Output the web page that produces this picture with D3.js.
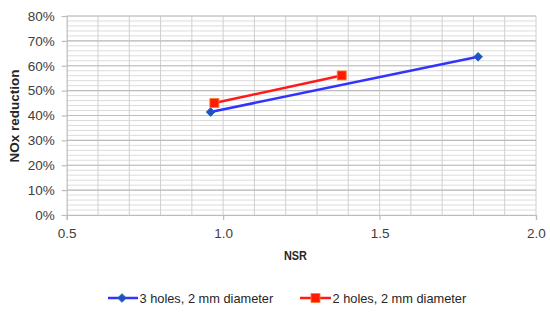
<!DOCTYPE html>
<html><head><meta charset="utf-8">
<script src="https://cdn.jsdelivr.net/npm/d3@7"></script>
<style>body{margin:0;background:#fff}svg{display:block}</style>
</head><body>
<svg id="c" width="550" height="319"></svg>
<script>
const xTicks = [0.5, 1.0, 1.5, 2.0];
const yTicks = [0, 0.1, 0.2, 0.3, 0.4, 0.5, 0.6, 0.7, 0.8];
const series1Name = "3 holes, 2 mm diameter";
const series1X = [0.96, 1.815];
const series1Y = [0.414, 0.636];
const series2Name = "2 holes, 2 mm diameter";
const series2X = [0.972, 1.379];
const series2Y = [0.450, 0.561];
const xTitle = "NSR";
const yTitle = "NOx reduction";

const svg = d3.select("#c");
const L = 66.7, R = 536, T = 16, B = 215;
const x = d3.scaleLinear().domain([0.5, 2.0]).range([L, R]);
const y = d3.scaleLinear().domain([0, 0.8]).range([B, T]);
const font = "'Liberation Sans', Arial, sans-serif";

// minor horizontal gridlines (every 2%)
const minorY = d3.range(0, 0.8001, 0.02);
svg.append("g").selectAll("line").data(minorY).join("line")
  .attr("x1", L).attr("x2", R).attr("y1", d => y(d)).attr("y2", d => y(d))
  .attr("stroke", "#dcdcdc").attr("stroke-width", 1);
// vertical gridlines every 0.1
const vx = d3.range(0.6, 2.0001, 0.1);
svg.append("g").selectAll("line").data(vx).join("line")
  .attr("x1", d => x(d)).attr("x2", d => x(d)).attr("y1", T).attr("y2", B)
  .attr("stroke", "#d0d0d0").attr("stroke-width", 1);
// major horizontal gridlines
svg.append("g").selectAll("line").data(yTicks.slice(1)).join("line")
  .attr("x1", L).attr("x2", R).attr("y1", d => y(d)).attr("y2", d => y(d))
  .attr("stroke", "#bdbdbd").attr("stroke-width", 1.2);

// axes
const yAxis = d3.axisLeft(y).tickValues(yTicks).tickFormat(d3.format(".0%")).tickSize(5).tickPadding(7);
const gy = svg.append("g").attr("transform", `translate(${L},0)`).call(yAxis);
const xAxis = d3.axisBottom(x).tickValues(xTicks).tickFormat(d3.format(".1f")).tickSize(5).tickPadding(8);
const gx = svg.append("g").attr("transform", `translate(0,${B})`).call(xAxis);
[gx, gy].forEach(g => {
  g.select(".domain").attr("stroke", "#bdbdbd").attr("stroke-width", 1.2);
  g.selectAll(".tick line").attr("stroke", "#bdbdbd").attr("stroke-width", 1.2);
  g.selectAll("text").attr("font-family", font).attr("font-size", 13.5).attr("fill", "#404040");
});

// axis titles
svg.append("text").attr("x", 295.5).attr("y", 260).attr("text-anchor", "middle")
  .attr("font-family", font).attr("font-weight", "bold").attr("font-size", 12.5)
  .attr("textLength", 23).attr("lengthAdjust", "spacingAndGlyphs")
  .attr("fill", "#262626").text(xTitle);
svg.append("text").attr("transform", "translate(18.5,116) rotate(-90)").attr("text-anchor", "middle")
  .attr("font-family", font).attr("font-weight", "bold").attr("font-size", 13.5).attr("fill", "#262626").text(yTitle);

// series
const line = d3.line().x(d => x(d[0])).y(d => y(d[1]));
const s1 = series1X.map((v, i) => [v, series1Y[i]]);
const s2 = series2X.map((v, i) => [v, series2Y[i]]);
svg.append("path").datum(s1).attr("d", line).attr("fill", "none").attr("stroke", "#3333ff").attr("stroke-width", 2.5);
svg.append("path").datum(s2).attr("d", line).attr("fill", "none").attr("stroke", "#ff1a1a").attr("stroke-width", 2.5);

function drawDiamond(g, cx, cy) {
  g.append("path").attr("d", d3.symbol().type(d3.symbolSquare).size(38)())
    .attr("transform", `translate(${cx},${cy}) rotate(45)`)
    .attr("fill", "#1f4fcf").attr("stroke", "#1a6a8a").attr("stroke-width", 0.8);
}
function drawSquare(g, cx, cy) {
  g.append("rect").attr("x", cx - 4.5).attr("y", cy - 4.5).attr("width", 9).attr("height", 9)
    .attr("fill", "#ff1a00").attr("stroke", "#ff7a30").attr("stroke-width", 0.8);
}
s1.forEach(d => drawDiamond(svg, x(d[0]), y(d[1])));
s2.forEach(d => drawSquare(svg, x(d[0]), y(d[1])));

// legend
const ly = 298;
svg.append("line").attr("x1", 108).attr("x2", 138).attr("y1", ly).attr("y2", ly).attr("stroke", "#3333ff").attr("stroke-width", 2.5);
drawDiamond(svg, 122, ly);
svg.append("text").attr("x", 139.5).attr("y", ly + 4.5).attr("font-family", font).attr("font-size", 12.8).attr("fill", "#262626").text(series1Name);
svg.append("line").attr("x1", 300).attr("x2", 331).attr("y1", ly).attr("y2", ly).attr("stroke", "#ff1a1a").attr("stroke-width", 2.5);
drawSquare(svg, 315.5, ly);
svg.append("text").attr("x", 332.5).attr("y", ly + 4.5).attr("font-family", font).attr("font-size", 12.8).attr("fill", "#262626").text(series2Name);
</script>
</body></html>
